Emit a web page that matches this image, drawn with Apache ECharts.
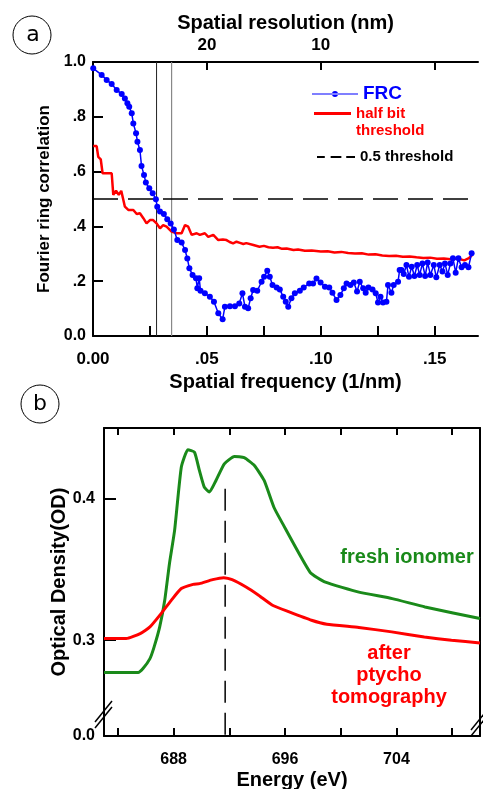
<!DOCTYPE html>
<html>
<head>
<meta charset="utf-8">
<script src="https://cdn.jsdelivr.net/npm/echarts@6.0.0/dist/echarts.min.js"></script>
<style>
html, body { margin: 0; padding: 0; background: #fff; }
#main { width: 483px; height: 789px; }
</style>
</head>
<body>
<div id="main"></div>
<script>
// panel a : FRC, [spatial frequency (1/nm), correlation]
var frcPoints = [
	[0.0001, 0.977], [0.0038, 0.953], [0.0060, 0.934], [0.0082, 0.920], [0.0104, 0.898], [0.0126, 0.883],
	[0.0140, 0.867], [0.0151, 0.849], [0.0159, 0.837], [0.0170, 0.813], [0.0177, 0.776], [0.0189, 0.740],
	[0.0195, 0.709], [0.0206, 0.679], [0.0213, 0.620], [0.0224, 0.588], [0.0232, 0.560], [0.0247, 0.539],
	[0.0262, 0.521], [0.0276, 0.499], [0.0282, 0.472], [0.0294, 0.454], [0.0311, 0.445], [0.0326, 0.426],
	[0.0341, 0.411], [0.0355, 0.389], [0.0370, 0.350], [0.0389, 0.341], [0.0404, 0.314], [0.0414, 0.283],
	[0.0423, 0.247], [0.0437, 0.223], [0.0452, 0.211], [0.0458, 0.174], [0.0466, 0.211], [0.0472, 0.165],
	[0.0491, 0.156], [0.0513, 0.143], [0.0531, 0.125], [0.0550, 0.083], [0.0569, 0.061], [0.0579, 0.107],
	[0.0601, 0.109], [0.0623, 0.109], [0.0642, 0.119], [0.0656, 0.156], [0.0667, 0.107], [0.0681, 0.101],
	[0.0692, 0.138], [0.0703, 0.168], [0.0721, 0.165], [0.0740, 0.198], [0.0751, 0.216], [0.0765, 0.238],
	[0.0776, 0.216], [0.0788, 0.186], [0.0806, 0.177], [0.0820, 0.170], [0.0835, 0.143], [0.0846, 0.125],
	[0.0857, 0.107], [0.0871, 0.138], [0.0886, 0.156], [0.0908, 0.165], [0.0925, 0.177], [0.0949, 0.192],
	[0.0966, 0.192], [0.0981, 0.210], [0.0999, 0.195], [0.1018, 0.180], [0.1037, 0.177], [0.1051, 0.158],
	[0.1069, 0.131], [0.1086, 0.150], [0.1101, 0.174], [0.1113, 0.192], [0.1130, 0.186], [0.1145, 0.195],
	[0.1159, 0.162], [0.1171, 0.198], [0.1186, 0.174], [0.1197, 0.158], [0.1209, 0.177], [0.1227, 0.170],
	[0.1241, 0.156], [0.1251, 0.122], [0.1262, 0.143], [0.1273, 0.122], [0.1288, 0.125], [0.1295, 0.186],
	[0.1310, 0.158], [0.1320, 0.186], [0.1339, 0.198], [0.1346, 0.241], [0.1354, 0.241], [0.1364, 0.226],
	[0.1376, 0.259], [0.1387, 0.216], [0.1399, 0.253], [0.1411, 0.219], [0.1423, 0.259], [0.1434, 0.223],
	[0.1446, 0.265], [0.1458, 0.219], [0.1469, 0.268], [0.1481, 0.223], [0.1496, 0.259], [0.1507, 0.214],
	[0.1522, 0.259], [0.1534, 0.235], [0.1545, 0.265], [0.1557, 0.223], [0.1569, 0.265], [0.1580, 0.284],
	[0.1592, 0.231], [0.1604, 0.284], [0.1618, 0.251], [0.1633, 0.259], [0.1648, 0.251], [0.1662, 0.302]
];
var halfBitPoints = [
	[0.0001, 0.693], [0.0016, 0.693], [0.0023, 0.654], [0.0034, 0.645], [0.0042, 0.594], [0.0082, 0.594],
	[0.0089, 0.515], [0.0101, 0.530], [0.0113, 0.515], [0.0124, 0.530], [0.0140, 0.472], [0.0155, 0.460],
	[0.0177, 0.460], [0.0192, 0.445], [0.0206, 0.448], [0.0221, 0.430], [0.0235, 0.411], [0.0250, 0.423],
	[0.0264, 0.423], [0.0279, 0.411], [0.0294, 0.393], [0.0308, 0.405], [0.0323, 0.399], [0.0345, 0.381],
	[0.0367, 0.375], [0.0389, 0.375], [0.0404, 0.405], [0.0418, 0.399], [0.0433, 0.369], [0.0455, 0.375],
	[0.0469, 0.369], [0.0491, 0.375], [0.0506, 0.362], [0.0528, 0.369], [0.0550, 0.350], [0.0570, 0.352],
	[0.0586, 0.350], [0.0600, 0.343], [0.0615, 0.338], [0.0630, 0.344], [0.0645, 0.340], [0.0660, 0.336],
	[0.0673, 0.339], [0.0700, 0.333], [0.0731, 0.326], [0.0750, 0.329], [0.0770, 0.324], [0.0790, 0.322],
	[0.0810, 0.324], [0.0830, 0.318], [0.0850, 0.319], [0.0880, 0.314], [0.0900, 0.316], [0.0930, 0.311],
	[0.0960, 0.312], [0.1000, 0.308], [0.1030, 0.309], [0.1060, 0.305], [0.1090, 0.307], [0.1120, 0.303],
	[0.1150, 0.301], [0.1180, 0.302], [0.1210, 0.297], [0.1240, 0.298], [0.1270, 0.294], [0.1300, 0.292],
	[0.1330, 0.293], [0.1360, 0.289], [0.1390, 0.290], [0.1420, 0.287], [0.1450, 0.285], [0.1480, 0.286],
	[0.1510, 0.282], [0.1540, 0.283], [0.1570, 0.280], [0.1600, 0.283], [0.1630, 0.276], [0.1650, 0.284],
	[0.1665, 0.296]
];
var thresholdPoints = [[0, 0.5], [0.169, 0.5]];
var crossLine1 = [[0.0279, 0], [0.0279, 1]];
var crossLine2 = [[0.0345, 0], [0.0345, 1]];
var freqTicks = [0, 0.025, 0.05, 0.075, 0.1, 0.125, 0.15];
var freqLabels = [0, 0.05, 0.1, 0.15];
var resTicks = [0.05, 0.1, 0.15];
var resLabels = [0.05, 0.1];
var frcTicks = [0, 0.2, 0.4, 0.6, 0.8, 1.0];

// panel b : [energy (eV), optical density]
var freshPoints = [
	[683, 0.2772], [685.45, 0.2772], [685.8, 0.280], [686.3, 0.287], [686.6, 0.2953], [687.0, 0.3094],
	[687.36, 0.3282], [687.7, 0.3541], [688.07, 0.3776], [688.55, 0.4223], [689.02, 0.4346], [689.5, 0.4329],
	[689.85, 0.420], [690.2, 0.4082], [690.57, 0.4047], [691.04, 0.4129], [691.64, 0.4247], [692.36, 0.4299],
	[693.07, 0.429], [693.8, 0.4235], [694.5, 0.4129], [695.2, 0.394], [695.7, 0.3847], [697.8, 0.348],
	[698.9, 0.341], [701.3, 0.334], [703.7, 0.3294], [706.05, 0.3235], [710, 0.3153]
];
var afterPoints = [
	[683, 0.3012], [684.6, 0.3012], [685.6, 0.3047], [686.3, 0.3094], [687.1, 0.3188], [687.83, 0.3282],
	[688.55, 0.3365], [689.4, 0.3395], [689.86, 0.340], [690.8, 0.3428], [691.6, 0.3442], [692.2, 0.3428],
	[693.2, 0.3376], [694.1, 0.3318], [695.1, 0.3247], [696.3, 0.320], [697.9, 0.3141], [699.0, 0.3113],
	[701.3, 0.309], [703.66, 0.3059], [706.0, 0.3023], [707.95, 0.300], [710, 0.2981]
];
var peakLine = [[691.7, 0.407], [691.7, 0.2323]];
var energyTicks = [684, 688, 692, 696, 700, 704, 708];
var energyLabels = [688, 696, 704];
var odTicks = [0.3, 0.4];
var odLabels = [0.2323, 0.3, 0.4];

var FONT = '"Liberation Sans", Arial, sans-serif';

function axisText(size) {
	return { color: '#000', fontFamily: FONT, fontWeight: 'bold', fontSize: size };
}
function labelStyle(size, extra) {
	var s = { color: '#000', fontFamily: FONT, fontWeight: 'bold', fontSize: size };
	for (var k in extra) s[k] = extra[k];
	return s;
}
var blackLine = { lineStyle: { color: '#000', width: 2 } };

var myChart = echarts.init(document.getElementById('main'));
var option = {
	backgroundColor: '#fff',
	animation: false,
	grid: [
		{ left: 93, top: 62, width: 385, height: 274, outerBoundsMode: 'none' },
		{ left: 104, top: 428, width: 376, height: 308, outerBoundsMode: 'none' }
	],
	legend: [{
		data: [{ name: 'FRC', icon: 'path://M0,2.4h46v1.2h-46z M20,3a3,3 0 1,0 6,0a3,3 0 1,0 -6,0z' }],
		left: 307, top: 79,
		itemWidth: 46, itemHeight: 6,
		textStyle: { color: '#0000ff', fontFamily: FONT, fontWeight: 'bold', fontSize: 19, lineHeight: 20 }
	}, {
		data: [{ name: 'half bit threshold', icon: 'rect' }],
		left: 309, top: 83,
		itemWidth: 37, itemHeight: 3,
		formatter: function() { return ' \nhalf bit\nthreshold'; },
		textStyle: { color: '#ff0000', fontFamily: FONT, fontWeight: 'bold', fontSize: 15, lineHeight: 17 }
	}, {
		data: [{ name: '0.5 threshold', icon: 'path://M0,0h8v2h-8z M14,0h11v2h-11z M30,0h9v2h-9z' }],
		left: 312, top: 144,
		itemWidth: 38, itemHeight: 2,
		textStyle: { color: '#000', fontFamily: FONT, fontWeight: 'bold', fontSize: 15, lineHeight: 16 }
	}],
	xAxis: [{
		type: 'value', gridIndex: 0, min: 0, max: 0.169,
		name: 'Spatial frequency (1/nm)', nameLocation: 'middle', nameGap: 36, nameMoveOverlap: false,
		nameTextStyle: axisText(20),
		axisLine: blackLine,
		axisTick: { inside: true, length: 10, lineStyle: { color: '#000', width: 2 }, customValues: freqTicks },
		axisLabel: labelStyle(17, {
			customValues: freqLabels, margin: 15,
			formatter: function(v) {
				return v === 0 ? '0.00' : '.' + v.toFixed(2).split('.')[1];
			}
		}),
		splitLine: { show: false }
	}, {
		type: 'value', gridIndex: 0, min: 0, max: 0.169, position: 'top',
		name: 'Spatial resolution (nm)', nameLocation: 'middle', nameGap: 29, nameMoveOverlap: false,
		nameTextStyle: axisText(20),
		axisLine: blackLine,
		axisTick: { inside: true, length: 8, lineStyle: { color: '#000', width: 2 }, customValues: resTicks },
		axisLabel: labelStyle(17, {
			customValues: resLabels, margin: 8,
			formatter: function(v) { return String(Math.round(1 / v)); }
		}),
		splitLine: { show: false }
	}, {
		type: 'value', gridIndex: 1, min: 683, max: 710,
		name: 'Energy (eV)', nameLocation: 'middle', nameGap: 34, nameMoveOverlap: false,
		nameTextStyle: axisText(20),
		axisLine: blackLine,
		axisTick: { inside: true, length: 8, lineStyle: { color: '#000', width: 2 }, customValues: energyTicks },
		axisLabel: labelStyle(16, { customValues: energyLabels, margin: 16 }),
		splitLine: { show: false }
	}, {
		type: 'value', gridIndex: 1, min: 683, max: 710, position: 'top',
		axisLine: blackLine,
		axisTick: { inside: true, length: 7, lineStyle: { color: '#000', width: 2 }, customValues: energyTicks },
		axisLabel: { show: false },
		splitLine: { show: false }
	}],
	yAxis: [{
		type: 'value', gridIndex: 0, min: 0, max: 1,
		name: 'Fourier ring correlation', nameLocation: 'middle', nameGap: 40, nameMoveOverlap: false,
		nameTextStyle: axisText(17),
		axisLine: { show: true, lineStyle: { color: '#000', width: 2 } },
		axisTick: { show: true, inside: true, length: 10, lineStyle: { color: '#000', width: 2 }, customValues: frcTicks },
		axisLabel: labelStyle(16, {
			customValues: frcTicks, margin: 7,
			formatter: function(v) {
				if (v === 0) return '0.0';
				if (v >= 1) return '1.0';
				return '.' + Math.round(v * 10);
			}
		}),
		splitLine: { show: false }
	}, {
		type: 'value', gridIndex: 1, min: 0.2323, max: 0.45,
		name: 'Optical Density(OD)', nameLocation: 'middle', nameGap: 35, nameMoveOverlap: false,
		nameTextStyle: axisText(20),
		axisLine: { show: true, lineStyle: { color: '#000', width: 2 } },
		axisTick: { show: true, inside: true, length: 12, lineStyle: { color: '#000', width: 2 }, customValues: odTicks },
		axisLabel: labelStyle(16, {
			customValues: odLabels, margin: 9,
			formatter: function(v) { return v < 0.25 ? '0.0' : v.toFixed(1); }
		}),
		splitLine: { show: false }
	}, {
		type: 'value', gridIndex: 1, min: 0.2323, max: 0.45, position: 'right',
		axisLine: { show: true, lineStyle: { color: '#000', width: 2 } },
		axisTick: { show: false },
		axisLabel: { show: false },
		splitLine: { show: false }
	}],
	series: [{
		name: 'cross1',
		type: 'line', xAxisIndex: 0, yAxisIndex: 0,
		data: crossLine1, symbol: 'none', silent: true,
		lineStyle: { color: '#222', width: 1 }
	}, {
		name: 'cross2',
		type: 'line', xAxisIndex: 0, yAxisIndex: 0,
		data: crossLine2, symbol: 'none', silent: true,
		lineStyle: { color: '#888', width: 1.2 }
	}, {
		name: 'half bit threshold',
		type: 'line', xAxisIndex: 0, yAxisIndex: 0,
		data: halfBitPoints,
		symbol: 'none',
		lineStyle: { color: '#ff0000', width: 2.5 },
		itemStyle: { color: '#ff0000' }
	}, {
		name: 'FRC',
		type: 'line', xAxisIndex: 0, yAxisIndex: 0,
		data: frcPoints,
		symbol: 'circle', symbolSize: 6,
		lineStyle: { color: '#0000ff', width: 1.5 },
		itemStyle: { color: '#0000ff' }
	}, {
		name: '0.5 threshold',
		type: 'line', xAxisIndex: 0, yAxisIndex: 0,
		data: thresholdPoints,
		symbol: 'none',
		lineStyle: { color: '#000', width: 1.5, type: [25, 10] },
		itemStyle: { color: '#000' }
	}, {
		name: 'fresh ionomer',
		type: 'line', xAxisIndex: 2, yAxisIndex: 1,
		data: freshPoints,
		symbol: 'none', smooth: 0.15,
		lineStyle: { color: '#1a8a1a', width: 3 }
	}, {
		name: 'after ptycho tomography',
		type: 'line', xAxisIndex: 2, yAxisIndex: 1,
		data: afterPoints,
		symbol: 'none', smooth: 0.15,
		lineStyle: { color: '#ff0000', width: 3 }
	}, {
		name: 'peak',
		type: 'line', xAxisIndex: 2, yAxisIndex: 1,
		data: peakLine,
		symbol: 'none',
		lineStyle: { color: '#000', width: 1.5, type: [22, 10] }
	}],
	graphic: [
		{ type: 'circle', shape: { cx: 32, cy: 35, r: 19 }, style: { fill: 'none', stroke: '#000', lineWidth: 1 } },
		{ type: 'text', x: 33, y: 35, style: { text: 'a', font: '22px "DejaVu Sans"', fill: '#000', align: 'center', verticalAlign: 'middle' } },
		{ type: 'circle', shape: { cx: 40, cy: 404, r: 19 }, style: { fill: 'none', stroke: '#000', lineWidth: 1 } },
		{ type: 'text', x: 40, y: 404, style: { text: 'b', font: '22px "DejaVu Sans"', fill: '#000', align: 'center', verticalAlign: 'middle' } },
		{ type: 'text', x: 407, y: 557, style: { text: 'fresh ionomer', font: 'bold 20px ' + FONT, fill: '#1a8a1a', align: 'center', verticalAlign: 'middle' } },
		{ type: 'text', x: 389, y: 675, style: { text: 'after\nptycho\ntomography', font: 'bold 20px ' + FONT, lineHeight: 22, fill: '#ff0000', align: 'center', verticalAlign: 'middle' } },
		// axis break marks
		{ type: 'polygon', shape: { points: [[96, 721], [110, 703], [110, 709], [96, 727]] }, style: { fill: '#fff' } },
		{ type: 'line', shape: { x1: 95, y1: 722, x2: 112, y2: 701 }, style: { stroke: '#000', lineWidth: 1.5 } },
		{ type: 'line', shape: { x1: 95, y1: 728, x2: 112, y2: 707 }, style: { stroke: '#000', lineWidth: 1.5 } },
		{ type: 'polygon', shape: { points: [[472, 729], [486, 711], [486, 717], [472, 735]] }, style: { fill: '#fff' } },
		{ type: 'line', shape: { x1: 471, y1: 730, x2: 488, y2: 709 }, style: { stroke: '#000', lineWidth: 1.5 } },
		{ type: 'line', shape: { x1: 471, y1: 736, x2: 488, y2: 715 }, style: { stroke: '#000', lineWidth: 1.5 } }
	]
};
myChart.setOption(option);
</script>
</body>
</html>
